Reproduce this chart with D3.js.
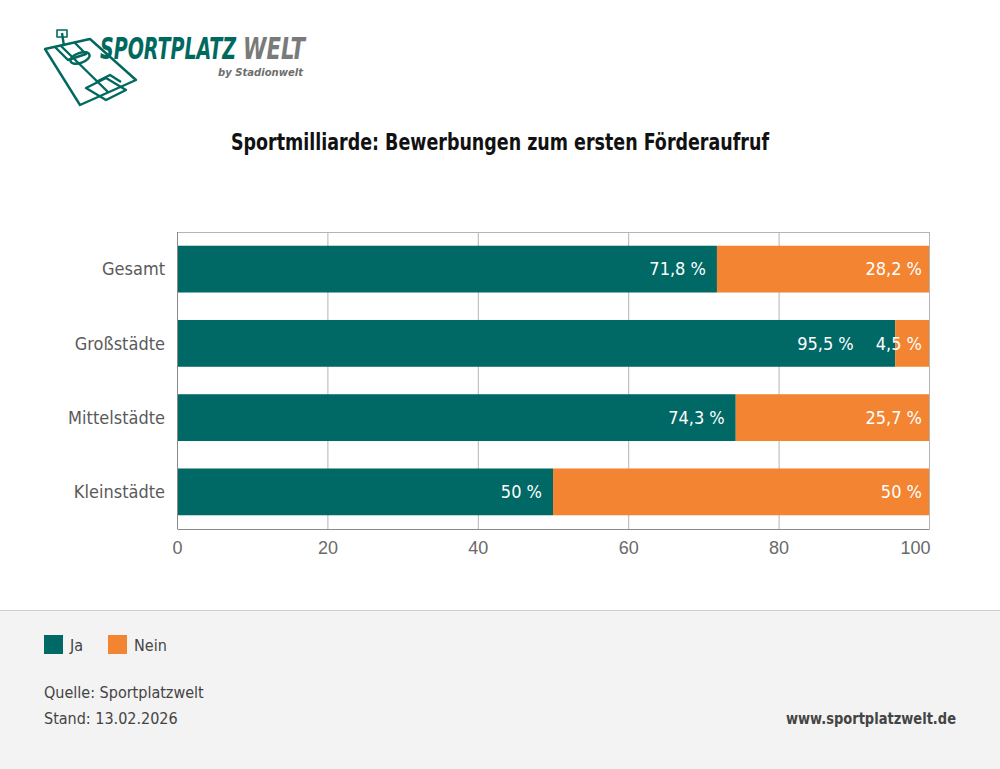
<!DOCTYPE html>
<html>
<head>
<meta charset="utf-8">
<script src="https://cdn.jsdelivr.net/npm/d3@7"></script>
<style>
  body { margin: 0; background: #fff; }
  svg { display: block; font-family: "Liberation Sans Narrow", "DejaVu Sans Condensed", "Roboto", sans-serif; }
</style>
</head>
<body>
<script>
let categories = ["Gesamt", "Großstädte", "Mittelstädte", "Kleinstädte"];
let ja = [71.8, 95.5, 74.3, 50];
let nein = [28.2, 4.5, 25.7, 50];
let seriesNames = ["Ja", "Nein"];
let xTicks = [0, 20, 40, 60, 80, 100];

let size = {width: 1000, height: 769};
let margin = {top: 232, right: 71, bottom: 240, left: 177};
let colors = {Ja: "#006865", Nein: "#f28432"};
let fmt = v => String(v).replace(".", ",") + " %";

let svg = d3.select("body").append("svg")
    .attr("width", size.width)
    .attr("height", size.height);

// footer band
svg.append("rect")
    .attr("x", 0).attr("y", 610)
    .attr("width", size.width).attr("height", size.height - 610)
    .attr("fill", "#f3f3f3");
svg.append("line")
    .attr("x1", 0).attr("x2", size.width)
    .attr("y1", 610.5).attr("y2", 610.5)
    .attr("stroke", "#cfcfcf");

// logo
let logo = svg.append("g").attr("fill", "none").attr("stroke", "#00695f").attr("stroke-width", 2.4)
    .attr("stroke-linejoin", "round");
logo.append("path").attr("d", "M45,49 L90,39 L136,80 L80,105 Z");
logo.append("path").attr("d", "M61,46 L108,92");
logo.append("ellipse").attr("cx", 80).attr("cy", 58).attr("rx", 10).attr("ry", 5).attr("transform", "rotate(-20,80,58)");
logo.append("path").attr("d", "M55,47 L68,60 L86,54 L74,42");
logo.append("path").attr("d", "M86,88 L106,78 L126,90 L106,100 Z");
logo.append("path").attr("d", "M96,82 L110,75 L121,82");
logo.append("path").attr("d", "M62,33 L64,46");
logo.append("rect").attr("x", 57).attr("y", 30).attr("width", 10).attr("height", 7).attr("stroke-width", 1.6);
logo.append("text")
    .attr("x", 100).attr("y", 59)
    .attr("stroke", "none").attr("fill", "#00695f")
    .attr("font-size", 30).attr("font-weight", "bold").attr("font-style", "italic")
    .attr("textLength", 136).attr("lengthAdjust", "spacingAndGlyphs")
    .text("SPORTPLATZ");
logo.append("text")
    .attr("x", 243).attr("y", 59)
    .attr("stroke", "none").attr("fill", "#7a7a7a")
    .attr("font-size", 30).attr("font-weight", "bold").attr("font-style", "italic")
    .attr("textLength", 62).attr("lengthAdjust", "spacingAndGlyphs")
    .text("WELT");
logo.append("text")
    .attr("x", 303).attr("y", 76)
    .attr("stroke", "none")
    .attr("text-anchor", "end")
    .attr("fill", "#6e6e6e")
    .attr("font-size", 10).attr("font-weight", "bold").attr("font-style", "italic")
    .attr("textLength", 85).attr("lengthAdjust", "spacingAndGlyphs")
    .text("by Stadionwelt");

// title
svg.append("text")
    .attr("x", 231).attr("y", 150)
    .attr("font-size", 23).attr("font-weight", "bold")
    .attr("fill", "#111")
    .attr("textLength", 538).attr("lengthAdjust", "spacingAndGlyphs")
    .text("Sportmilliarde: Bewerbungen zum ersten Förderaufruf");

let x = d3.scaleLinear()
    .domain([0, 100])
    .range([margin.left, size.width - margin.right]);

let y = d3.scaleBand()
    .domain(categories)
    .range([margin.top, 529])
    .paddingInner(0.37)
    .paddingOuter(0.185);

// grid
svg.append("g")
    .selectAll("line")
    .data(xTicks)
    .join("line")
    .attr("x1", d => x(d) + 0.5).attr("x2", d => x(d) + 0.5)
    .attr("y1", margin.top).attr("y2", 529)
    .attr("stroke", "#b4b4b4");

svg.append("line")
    .attr("x1", x(0)).attr("x2", x(100) + 0.5)
    .attr("y1", margin.top + 0.5).attr("y2", margin.top + 0.5)
    .attr("stroke", "#b4b4b4");

let xAxis = g => g
    .attr("transform", `translate(0,529)`)
    .call(d3.axisBottom(x).tickValues(xTicks).tickSize(0).tickPadding(12))
    .call(g => g.select(".domain").attr("stroke", "#8a8a8a"))
    .call(g => g.selectAll("text")
        .attr("font-family", null)
        .attr("font-size", 18)
        .attr("fill", "#6a6a6a"))
    .call(g => g.select(".tick:last-of-type text")
        .attr("text-anchor", "end")
        .attr("x", 1));

svg.append("g").call(xAxis);

// stacked bars
let rows = categories.map((c, i) => ({cat: c, Ja: ja[i], Nein: nein[i]}));
let stack = d3.stack().keys(seriesNames)(rows);

let groups = svg.append("g")
    .selectAll("g")
    .data(stack)
    .join("g")
    .attr("fill", d => colors[d.key]);

groups.selectAll("rect")
    .data(d => d)
    .join("rect")
    .attr("x", d => x(d[0]))
    .attr("y", d => y(d.data.cat))
    .attr("width", d => x(d[1]) - x(d[0]))
    .attr("height", y.bandwidth());

let labels = groups.selectAll("text")
    .data(d => d.map(v => ({v, key: d.key})))
    .join("text")
    .attr("x", d => x(d.v[1]) - (d.key === "Ja" ? 11 : 7))
    .attr("y", d => y(d.v.data.cat) + y.bandwidth() / 2)
    .attr("dy", "0.35em")
    .attr("text-anchor", "end")
    .attr("fill", "#fff")
    .attr("font-size", 18)
    .text(d => fmt(d.v.data[d.key]));

// push a Ja label left when it would run into the Nein label
let neinLeft = {};
labels.filter(d => d.key === "Nein").each(function (d) {
    neinLeft[d.v.data.cat] = x(d.v[1]) - 7 - this.getComputedTextLength();
});
labels.filter(d => d.key === "Ja").each(function (d) {
    let limit = neinLeft[d.v.data.cat] - 22;
    let cur = +d3.select(this).attr("x");
    if (cur > limit) d3.select(this).attr("x", limit);
});

// left axis line and category labels
svg.append("line")
    .attr("x1", x(0) + 0.5).attr("x2", x(0) + 0.5)
    .attr("y1", margin.top).attr("y2", 529)
    .attr("stroke", "#8a8a8a");

svg.append("g")
    .selectAll("text")
    .data(categories)
    .join("text")
    .attr("x", 165)
    .attr("y", d => y(d) + y.bandwidth() / 2)
    .attr("dy", "0.35em")
    .attr("text-anchor", "end")
    .attr("font-size", 18)
    .attr("fill", "#5a5a5a")
    .text(d => d);

// legend
let legend = svg.append("g")
    .selectAll("g")
    .data(seriesNames)
    .join("g")
    .attr("transform", (d, i) => `translate(${44 + i * 64},635)`);
legend.append("rect")
    .attr("width", 19).attr("height", 19)
    .attr("fill", d => colors[d]);
legend.append("text")
    .attr("x", 26).attr("y", 10)
    .attr("dy", "0.35em")
    .attr("font-size", 16)
    .attr("fill", "#444")
    .text(d => d);

// source
let notes = ["Quelle: Sportplatzwelt", "Stand: 13.02.2026"];
svg.append("g")
    .selectAll("text")
    .data(notes)
    .join("text")
    .attr("x", 44)
    .attr("y", (d, i) => 698 + i * 26)
    .attr("font-size", 16)
    .attr("fill", "#444")
    .text(d => d);

svg.append("text")
    .attr("x", 956).attr("y", 724)
    .attr("text-anchor", "end")
    .attr("font-size", 16).attr("font-weight", "bold")
    .attr("fill", "#444")
    .attr("textLength", 170).attr("lengthAdjust", "spacingAndGlyphs")
    .text("www.sportplatzwelt.de");
</script>
</body>
</html>
